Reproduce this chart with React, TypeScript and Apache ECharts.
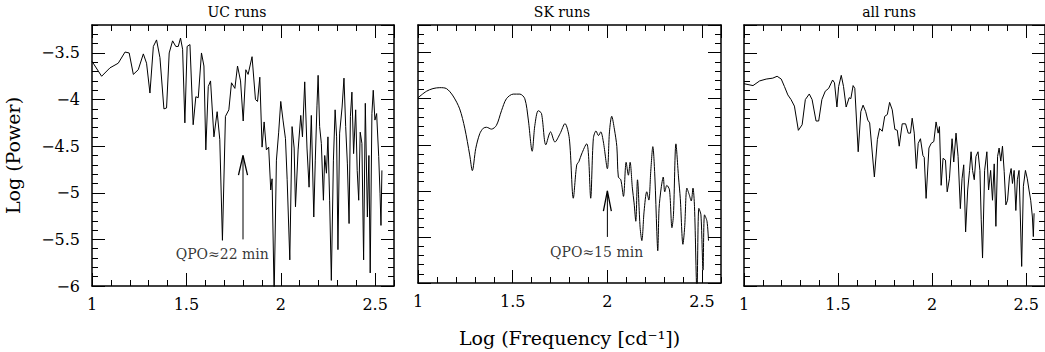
import React, { useEffect, useRef } from "react";
import * as echarts from "echarts";

// ---- data (Log frequency, Log power) ----
const ucRuns: number[][] = [
  [1.0,-3.59],[1.051,-3.75],[1.095,-3.66],[1.139,-3.61],[1.175,-3.49],[1.197,-3.50],[1.219,-3.73],[1.245,-3.68],
  [1.272,-3.51],[1.289,-3.61],[1.307,-3.93],[1.325,-3.43],[1.342,-3.36],[1.360,-3.55],[1.381,-4.10],[1.395,-4.09],
  [1.409,-3.50],[1.427,-3.37],[1.444,-3.43],[1.457,-3.43],[1.469,-3.34],[1.480,-3.46],[1.492,-4.25],[1.504,-3.43],
  [1.519,-3.41],[1.536,-4.27],[1.550,-3.97],[1.563,-3.98],[1.580,-3.50],[1.593,-3.64],[1.603,-4.54],[1.616,-3.86],
  [1.628,-3.80],[1.646,-4.40],[1.663,-4.13],[1.677,-4.43],[1.691,-5.51],[1.707,-4.18],[1.725,-4.11],[1.739,-3.82],
  [1.757,-3.88],[1.771,-3.64],[1.787,-3.80],[1.801,-4.23],[1.815,-3.68],[1.827,-3.73],[1.848,-3.54],[1.866,-4.0],
  [1.877,-4.02],[1.889,-3.76],[1.901,-4.51],[1.912,-4.24],[1.924,-4.54],[1.936,-4.51],[1.947,-4.97],[1.954,-4.85],
  [1.965,-6.1],[1.977,-4.65],[1.989,-4.35],[2.0,-4.02],[2.012,-4.22],[2.025,-4.42],[2.034,-4.86],[2.048,-5.72],
  [2.060,-4.29],[2.071,-4.52],[2.078,-5.15],[2.092,-4.54],[2.106,-4.17],[2.115,-4.40],[2.127,-3.81],[2.139,-4.52],
  [2.150,-4.94],[2.162,-4.17],[2.175,-5.26],[2.183,-4.65],[2.192,-4.06],[2.198,-3.74],[2.206,-4.29],[2.215,-4.47],
  [2.226,-5.08],[2.233,-4.60],[2.242,-4.79],[2.250,-4.40],[2.259,-5.08],[2.268,-5.94],[2.279,-4.65],[2.288,-4.11],
  [2.296,-4.40],[2.303,-5.61],[2.312,-4.36],[2.325,-4.08],[2.335,-3.77],[2.344,-4.29],[2.353,-4.69],[2.362,-5.33],
  [2.369,-4.18],[2.377,-3.92],[2.386,-4.58],[2.397,-4.11],[2.405,-4.76],[2.413,-5.08],[2.421,-4.35],[2.430,-4.47],
  [2.439,-5.72],[2.448,-4.04],[2.459,-5.26],[2.467,-4.60],[2.474,-5.86],[2.483,-4.15],[2.490,-3.90],[2.499,-4.22],
  [2.508,-4.15],[2.519,-4.61],[2.526,-5.01],[2.531,-5.35],[2.536,-4.76]
];

const skRuns: number[][] = [
  [1.0,-3.99],[1.044,-3.92],[1.079,-3.89],[1.115,-3.88],[1.150,-3.89],[1.185,-3.97],[1.220,-4.11],[1.247,-4.32],
  [1.273,-4.61],[1.287,-4.78],[1.305,-4.54],[1.326,-4.38],[1.345,-4.32],[1.362,-4.31],[1.388,-4.33],[1.414,-4.29],
  [1.441,-4.13],[1.467,-4.00],[1.503,-3.95],[1.538,-3.95],[1.564,-4.00],[1.582,-4.22],[1.603,-4.57],[1.617,-4.29],
  [1.635,-4.13],[1.652,-4.16],[1.675,-4.50],[1.700,-4.36],[1.723,-4.47],[1.750,-4.38],[1.776,-4.27],[1.799,-4.43],
  [1.820,-5.08],[1.838,-4.72],[1.850,-4.68],[1.864,-4.60],[1.891,-4.49],[1.900,-4.60],[1.912,-5.08],[1.926,-4.43],
  [1.940,-4.35],[1.953,-4.40],[1.965,-4.36],[1.979,-4.47],[2.0,-4.76],[2.011,-4.36],[2.023,-4.19],[2.037,-4.33],
  [2.050,-4.52],[2.058,-4.85],[2.071,-4.88],[2.085,-5.06],[2.099,-4.69],[2.111,-4.83],[2.120,-4.69],[2.132,-4.97],
  [2.141,-5.13],[2.150,-5.33],[2.159,-4.88],[2.173,-5.40],[2.182,-5.54],[2.194,-5.22],[2.208,-5.01],[2.219,-5.10],
  [2.229,-4.79],[2.240,-4.52],[2.251,-4.86],[2.261,-5.44],[2.266,-5.65],[2.273,-5.19],[2.284,-4.97],[2.295,-4.85],
  [2.303,-5.01],[2.314,-4.94],[2.328,-4.99],[2.341,-5.40],[2.349,-5.26],[2.362,-4.49],[2.376,-4.86],[2.385,-5.08],
  [2.399,-5.58],[2.408,-5.40],[2.420,-4.97],[2.432,-5.04],[2.443,-5.11],[2.452,-4.97],[2.460,-5.17],[2.473,-6.1],
  [2.483,-5.19],[2.494,-5.26],[2.505,-5.86],[2.513,-5.26],[2.526,-5.33],[2.534,-5.54]
];

const allRuns: number[][] = [
  [1.0,-3.83],[1.048,-3.85],[1.083,-3.80],[1.118,-3.78],[1.153,-3.77],[1.176,-3.75],[1.198,-3.78],[1.215,-3.86],
  [1.233,-3.95],[1.250,-4.0],[1.268,-4.07],[1.289,-4.33],[1.309,-4.27],[1.326,-4.0],[1.347,-3.94],[1.362,-4.0],
  [1.383,-4.23],[1.397,-4.23],[1.414,-4.0],[1.432,-3.91],[1.450,-3.88],[1.471,-3.79],[1.481,-3.82],[1.494,-4.08],
  [1.503,-3.86],[1.517,-3.74],[1.529,-3.86],[1.543,-4.08],[1.559,-3.98],[1.568,-3.99],[1.580,-3.85],[1.589,-3.88],
  [1.607,-4.56],[1.621,-4.13],[1.633,-4.06],[1.647,-4.13],[1.658,-4.22],[1.668,-4.25],[1.693,-4.83],[1.709,-4.43],
  [1.721,-4.31],[1.735,-4.34],[1.748,-4.18],[1.762,-4.16],[1.774,-4.03],[1.788,-4.11],[1.802,-4.32],[1.815,-4.33],
  [1.825,-4.50],[1.841,-4.26],[1.859,-4.26],[1.873,-4.36],[1.885,-4.36],[1.894,-4.20],[1.905,-4.36],[1.916,-4.74],
  [1.926,-4.47],[1.938,-4.42],[1.951,-4.60],[1.958,-4.62],[1.968,-5.06],[1.983,-4.52],[1.995,-4.47],[2.009,-4.45],
  [2.021,-4.24],[2.032,-4.36],[2.039,-4.29],[2.048,-4.92],[2.058,-4.63],[2.071,-4.65],[2.080,-4.99],[2.092,-4.85],
  [2.106,-4.42],[2.115,-4.67],[2.127,-4.36],[2.138,-4.61],[2.150,-5.17],[2.159,-4.85],[2.168,-4.70],[2.178,-5.42],
  [2.189,-4.97],[2.199,-4.76],[2.207,-4.56],[2.215,-4.76],[2.224,-4.86],[2.233,-4.61],[2.244,-4.56],[2.254,-4.76],
  [2.261,-5.29],[2.268,-5.70],[2.279,-4.76],[2.291,-4.56],[2.300,-4.97],[2.311,-4.76],[2.321,-5.08],[2.330,-4.69],
  [2.339,-5.36],[2.348,-4.61],[2.356,-4.52],[2.365,-4.66],[2.374,-4.50],[2.383,-4.77],[2.392,-5.13],[2.401,-5.08],
  [2.411,-4.83],[2.420,-4.74],[2.427,-4.90],[2.436,-4.76],[2.445,-5.19],[2.453,-4.86],[2.462,-4.76],[2.469,-5.26],
  [2.476,-5.79],[2.485,-4.93],[2.496,-4.76],[2.506,-4.85],[2.515,-4.97],[2.524,-5.08],[2.533,-5.26],[2.538,-5.47],
  [2.542,-5.22]
];

const panelTitles = ["UC runs", "SK runs", "all runs"];
const xRange = [1, 2.6];
const yRange = [-6, -3.2];

// QPO annotations
const qpoPanels = [0, 1];
const qpoArrowX = [1.8, 2.0];
const qpoArrowBottom = [-5.5, -5.5];
const qpoArrowTip = [-4.6, -5.0];
const qpoHeadY = [-4.81, -5.22];
const qpoHeadDx = [0.024, 0.021];
const qpoLabelX = [1.69, 1.943];
const qpoLabelY = [-5.66, -5.66];
const qpoTexts = ["QPO≈22 min", "QPO≈15 min"];

const FONT = "DejaVu Serif";

export default function App() {
  const ref = useRef<HTMLDivElement>(null);
  useEffect(() => {
    if (!ref.current) return;
    const chart = echarts.init(ref.current, undefined, { renderer: "svg" });
    const grids = [
      { left: 92, top: 25, width: 302, height: 261 },
      { left: 418, top: 25, width: 303, height: 261 },
      { left: 744, top: 25, width: 302, height: 261 },
    ];
    const minus = (v: number) => String(Math.round(v * 10) / 10).replace("-", "\u2212");
    const xAxes: any[] = [];
    const yAxes: any[] = [];
    grids.forEach((_, g) => {
      const base = { type: "value", min: xRange[0], max: xRange[1], gridIndex: g, splitLine: { show: false } };
      xAxes.push({
        ...base, position: "bottom", interval: 0.5,
        axisLine: { show: true, onZero: false, lineStyle: { color: "#000", width: 1.5 } },
        axisTick: { inside: true, length: 13, lineStyle: { color: "#000", width: 1 } },
        axisLabel: {
          show: true, margin: 10, color: "#000", fontFamily: FONT, fontSize: 16,
          showMaxLabel: false, formatter: (v: number) => minus(v),
        },
        name: g === 1 ? "Log (Frequency [cd\u207B\u00B9])" : "",
        nameLocation: "middle", nameGap: 45,
        nameTextStyle: { color: "#000", fontFamily: FONT, fontSize: 19 },
      });
      xAxes.push({
        ...base, position: "bottom", interval: 0.1,
        axisLine: { show: false, onZero: false },
        axisTick: { inside: true, length: 6, lineStyle: { color: "#000", width: 1 } },
        axisLabel: { show: false },
      });
      xAxes.push({
        ...base, position: "top", interval: 0.5,
        axisLine: { show: true, onZero: false, lineStyle: { color: "#000", width: 1.5 } },
        axisTick: { inside: true, length: 13, lineStyle: { color: "#000", width: 1 } },
        axisLabel: { show: false },
      });
      xAxes.push({
        ...base, position: "top", interval: 0.1,
        axisLine: { show: false, onZero: false },
        axisTick: { inside: true, length: 6, lineStyle: { color: "#000", width: 1 } },
        axisLabel: { show: false },
      });
      const ybase = { type: "value", min: yRange[0], max: yRange[1], gridIndex: g, splitLine: { show: false } };
      yAxes.push({
        ...ybase, position: "left", interval: 0.5,
        axisLine: { show: true, onZero: false, lineStyle: { color: "#000", width: 1.5 } },
        axisTick: { inside: true, length: 13, lineStyle: { color: "#000", width: 1 } },
        axisLabel: {
          show: g === 0, margin: 12, color: "#000", fontFamily: FONT, fontSize: 16,
          showMaxLabel: false, formatter: (v: number) => minus(v),
        },
        name: g === 0 ? "Log (Power)" : "",
        nameLocation: "middle", nameGap: 70,
        nameTextStyle: { color: "#000", fontFamily: FONT, fontSize: 19 },
      });
      yAxes.push({
        ...ybase, position: "left", interval: 0.1,
        axisLine: { show: false, onZero: false },
        axisTick: { inside: true, length: 6, lineStyle: { color: "#000", width: 1 } },
        axisLabel: { show: false },
      });
      yAxes.push({
        ...ybase, position: "right", interval: 0.5,
        axisLine: { show: true, onZero: false, lineStyle: { color: "#000", width: 1.5 } },
        axisTick: { inside: true, length: 13, lineStyle: { color: "#000", width: 1 } },
        axisLabel: { show: false },
      });
      yAxes.push({
        ...ybase, position: "right", interval: 0.1,
        axisLine: { show: false, onZero: false },
        axisTick: { inside: true, length: 6, lineStyle: { color: "#000", width: 1 } },
        axisLabel: { show: false },
      });
    });

    const lineStyle = { color: "#000", width: 1 };
    const smoothing = [0, 0.3, 0];
    const series: any[] = [ucRuns, skRuns, allRuns].map((d, g) => ({
      type: "line", data: d, xAxisIndex: g * 4, yAxisIndex: g * 4, smooth: smoothing[g],
      showSymbol: false, symbol: "none", lineStyle, clip: true, silent: true,
    }));
    qpoPanels.forEach((g, i) => {
      series.push({
        type: "line", xAxisIndex: g * 4, yAxisIndex: g * 4, symbol: "none", lineStyle, silent: true,
        data: [[qpoArrowX[i], qpoArrowBottom[i]], [qpoArrowX[i], qpoArrowTip[i]]],
      });
      series.push({
        type: "line", xAxisIndex: g * 4, yAxisIndex: g * 4, symbol: "none", lineStyle: { color: "#000", width: 1.3 }, silent: true,
        data: [[qpoArrowX[i] - qpoHeadDx[i], qpoHeadY[i]], [qpoArrowX[i], qpoArrowTip[i]], [qpoArrowX[i] + qpoHeadDx[i], qpoHeadY[i]]],
      });
      series.push({
        type: "scatter", xAxisIndex: g * 4, yAxisIndex: g * 4, symbolSize: 1, silent: true,
        itemStyle: { color: "rgba(0,0,0,0)" },
        data: [{ value: [qpoLabelX[i], qpoLabelY[i]], name: qpoTexts[i] }],
        label: { show: true, position: "inside", formatter: "{b}", color: "#000", fontFamily: FONT, fontSize: 14 },
      });
    });

    const titleX = [237, 562, 889];
    chart.setOption({
      animation: false,
      backgroundColor: "#fff",
      grid: grids,
      xAxis: xAxes,
      yAxis: yAxes,
      series,
      graphic: panelTitles.map((t, i) => ({
        type: "text", x: titleX[i], y: 12,
        style: { text: t, textAlign: "center", textVerticalAlign: "middle", fill: "#000", fontFamily: FONT, fontSize: 14 },
      })),
    });
    return () => chart.dispose();
  }, []);
  return <div ref={ref} style={{ position: "fixed", left: 0, top: 0, width: 1045, height: 352, background: "#fff" }} />;
}
